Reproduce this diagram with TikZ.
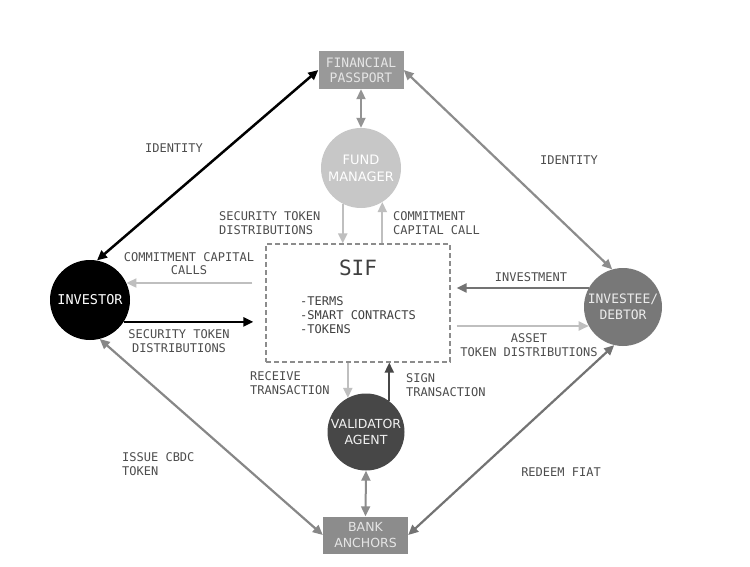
\documentclass[tikz,border=0pt]{standalone}
\usepackage{fontspec}
\newfontfamily\monof{DejaVu Sans Mono}
\newfontfamily\sansf{DejaVu Sans}
\usetikzlibrary{arrows.meta}
\definecolor{lbl}{HTML}{4d4d4d}
\tikzset{
  lab/.style={text=lbl, font=\monof\fontsize{12}{13.5}\selectfont, inner sep=0pt},
  circ/.style={circle, minimum size=80pt, inner sep=0pt, align=center},
  boxn/.style={rectangle, inner sep=0pt, align=center},
  tip/.style={-{Triangle[length=10pt,width=9pt]}},
  dtip/.style={{Triangle[length=10pt,width=9pt]}-{Triangle[length=10pt,width=9pt]}},
}
\begin{document}
\begin{tikzpicture}[x=1pt,y=-1pt]
\useasboundingbox (0,0) rectangle (750,567);
\fill[white] (0,0) rectangle (750,567);
% nodes
\node[boxn, fill=black!40, text=black!10, minimum width=85pt, minimum height=38pt,
  font=\monof\fontsize{13}{15}\selectfont] (fp) at (361,70) {FINANCIAL\\PASSPORT};
\node[circ, fill=black!22, text=white, font=\sansf\fontsize{13}{17}\selectfont] (fm) at (361,168) {FUND\\MANAGER};
\node[circ, fill=black, text=white, font=\monof\fontsize{13.5}{15}\selectfont] (inv) at (90,300) {INVESTOR};
\node[circ, minimum size=78pt, fill=black!53, text=black!8, font=\monof\fontsize{13}{15.5}\selectfont] (ie) at (623,307) {INVESTEE/\\DEBTOR};
\node[circ, minimum size=77pt, fill=black!72, text=black!5, font=\sansf\fontsize{12.5}{16}\selectfont] (val) at (366,432) {VALIDATOR\\AGENT};
\node[boxn, fill=black!45, text=black!10, minimum width=85pt, minimum height=37pt,
  font=\sansf\fontsize{12.5}{16}\selectfont] (bank) at (365.5,535) {BANK\\ANCHORS};
\node[boxn, draw=black!45, dashed, dash pattern=on 5pt off 3pt, line width=1.2pt, minimum width=184pt, minimum height=118pt] (sif) at (358,303) {};
\node[text=black!75, font=\monof\fontsize{21}{24}\selectfont, inner sep=0pt] (siftitle) at (358,268) {SIF};
\node[text=black!75, font=\monof\fontsize{12}{14}\selectfont, inner sep=0pt, align=left, anchor=west] (siflist) at (300,315) {-TERMS\\-SMART CONTRACTS\\-TOKENS};
% diagonal connectors
\draw[dtip, line width=2.5pt, black] (inv.80) -- (fp.west);
\draw[dtip, line width=2.2pt, black!45] (fp.east) -- (ie.106);
\draw[dtip, line width=2.2pt, black!47] (inv.-76) -- (bank.west);
\draw[dtip, line width=2.2pt, black!55] (ie.-103) -- (bank.east);
% vertical connectors
\draw[dtip, line width=2pt, black!42] (fp.south) -- (fm.north);
\draw[tip, line width=2pt, black!25] (fm.-117) -- (fm.-117 |- sif.north);
\draw[tip, line width=2pt, black!25] (sif.north -| fm.-58) -- (fm.-58);
\draw[tip, line width=2pt, black!25] (sif.south -| val.118) -- (val.118);
\draw[tip, line width=2pt, black!72] (val.53) -- (val.53 |- sif.south);
\draw[dtip, line width=2pt, black!45] (val.south) -- (bank.north);
% horizontal connectors
\draw[tip, line width=2pt, black!25, shorten <=13pt] (sif.west |- inv.25) -- (inv.25);
\draw[tip, line width=2.3pt, black, shorten >=-1pt] (inv.-33) -- ([xshift=-13pt]inv.-33 -| sif.west);
\draw[tip, line width=2pt, black!55] (ie.151) -- ([xshift=6pt]ie.151 -| sif.east);
\draw[tip, line width=2pt, black!25] ([xshift=6pt]sif.east |- ie.-151) -- (ie.-151);
% labels
\node[lab] (l1) at (174,148) {IDENTITY};
\node[lab] (l2) at (569,160) {IDENTITY};
\node[lab, align=left, anchor=west] (l3) at (219,223) {SECURITY TOKEN\\DISTRIBUTIONS};
\node[lab, align=left, anchor=west] (l4) at (393,223) {COMMITMENT\\CAPITAL CALL};
\node[lab, align=center] (l5) at (189,263.5) {COMMITMENT CAPITAL\\CALLS};
\node[lab, align=center] (l6) at (179,341) {SECURITY TOKEN\\DISTRIBUTIONS};
\node[lab] (l7) at (531,277) {INVESTMENT};
\node[lab, align=center] (l8) at (529,345) {ASSET\\TOKEN DISTRIBUTIONS};
\node[lab, align=left, anchor=west] (l9) at (250,383) {RECEIVE\\TRANSACTION};
\node[lab, align=left, anchor=west] (l10) at (406,385) {SIGN\\TRANSACTION};
\node[lab, align=left, anchor=west] (l11) at (122,464) {ISSUE CBDC\\TOKEN};
\node[lab] (l12) at (561,472) {REDEEM FIAT};
\end{tikzpicture}
\end{document}
